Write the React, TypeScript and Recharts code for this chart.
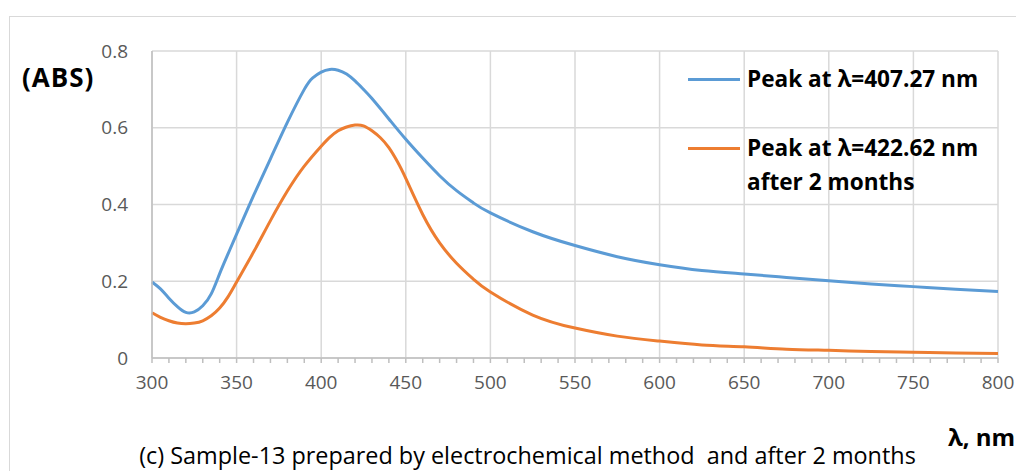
import React from 'react';
import { LineChart, Line, XAxis, YAxis, CartesianGrid, Legend } from 'recharts';

const blueWl = [300, 305, 310, 315, 320, 325, 330, 335, 340, 345, 350, 360, 370, 380, 390, 395, 400, 405, 410, 415, 420, 425, 430, 440, 450, 460, 470, 480, 490, 500, 525, 550, 575, 600, 625, 650, 675, 700, 725, 750, 775, 800];
const blueAbs = [0.198, 0.18, 0.156, 0.134, 0.119, 0.12, 0.136, 0.167, 0.22, 0.272, 0.323, 0.423, 0.519, 0.614, 0.7, 0.73, 0.745, 0.752, 0.75, 0.74, 0.722, 0.7, 0.676, 0.623, 0.57, 0.521, 0.475, 0.436, 0.404, 0.378, 0.329, 0.293, 0.264, 0.243, 0.228, 0.219, 0.21, 0.201, 0.193, 0.186, 0.179, 0.173];

const orangeWl = [300, 305, 310, 315, 320, 325, 330, 335, 340, 345, 350, 360, 370, 380, 390, 400, 405, 410, 415, 420, 425, 430, 435, 440, 445, 450, 460, 470, 480, 490, 500, 525, 550, 575, 600, 625, 650, 675, 700, 725, 750, 775, 800];
const orangeAbs = [0.118, 0.106, 0.097, 0.091, 0.089, 0.091, 0.097, 0.11, 0.13, 0.16, 0.198, 0.276, 0.358, 0.435, 0.5, 0.552, 0.575, 0.592, 0.602, 0.607, 0.605, 0.592, 0.574, 0.548, 0.512, 0.468, 0.374, 0.3, 0.247, 0.205, 0.172, 0.112, 0.078, 0.057, 0.044, 0.034, 0.029, 0.023, 0.02, 0.017, 0.015, 0.013, 0.012];

const xMajorTicks = [300, 350, 400, 450, 500, 550, 600, 650, 700, 750, 800];
const xAllTicks = [300, 310, 320, 330, 340, 350, 360, 370, 380, 390, 400, 410, 420, 430, 440, 450, 460, 470, 480, 490, 500, 510, 520, 530, 540, 550, 560, 570, 580, 590, 600, 610, 620, 630, 640, 650, 660, 670, 680, 690, 700, 710, 720, 730, 740, 750, 760, 770, 780, 790, 800];
const yTicks = [0, 0.2, 0.4, 0.6, 0.8];
const yTickLabels = ['0', '0.2', '0.4', '0.6', '0.8'];

const seriesNames = ['Peak at λ=407.27 nm', 'Peak at λ=422.62 nm', 'after 2 months'];
const yTitle = '(ABS)';
const xTitle = 'λ, nm';
const caption = '(c) Sample-13 prepared by electrochemical method  and after 2 months';

const blueData = blueWl.map((x, i) => ({ x, y: blueAbs[i] }));
const orangeData = orangeWl.map((x, i) => ({ x, y: orangeAbs[i] }));

const FONT = '"Open Sans", "Noto Sans", sans-serif';
const BLUE = '#5b9bd5';
const ORANGE = '#ed7d31';

const XTick = (props: any) => {
  const { x, y, payload } = props;
  if (xMajorTicks.indexOf(payload.value) < 0) return <g />;
  return (
    <text x={x} y={y} dy={24} textAnchor="middle" fill="#595959" fontSize={19} fontFamily={FONT}>
      {payload.value}
    </text>
  );
};

const LegendContent = () => (
  <div style={{ position: 'relative', width: 328, height: 140, fontFamily: FONT, fontWeight: 700, fontSize: 22.6, color: '#000', textAlign: 'left' }}>
    <div style={{ position: 'absolute', left: 0, top: 17.5, width: 52, height: 3, background: BLUE }} />
    <div style={{ position: 'absolute', left: 59, top: 2, lineHeight: '34px', whiteSpace: 'nowrap' }}>{seriesNames[0]}</div>
    <div style={{ position: 'absolute', left: 0, top: 86.5, width: 52, height: 3, background: ORANGE }} />
    <div style={{ position: 'absolute', left: 59, top: 71, lineHeight: '34px', whiteSpace: 'nowrap' }}>
      {seriesNames[1]}
      <br />
      {seriesNames[2]}
    </div>
  </div>
);

export default function App() {
  return (
    <div style={{ position: 'fixed', left: 0, top: 0, width: 1016, height: 471, overflow: 'hidden', background: '#fff' }}>
      <div style={{ position: 'absolute', left: 9, top: 16, width: 1200, height: 700, border: '1px solid #d9d9d9' }} />
      <div style={{ position: 'absolute', left: 0, top: 0 }}>
        <LineChart width={1016} height={471} margin={{ top: 51, right: 18, left: 0, bottom: 0 }}>
          <CartesianGrid stroke="#d9d9d9" strokeWidth={1.5} horizontalValues={yTicks} verticalValues={xMajorTicks} />
          <XAxis
            type="number"
            dataKey="x"
            domain={[300, 800]}
            ticks={xAllTicks}
            interval={0}
            height={113}
            tickSize={5}
            tickMargin={2}
            stroke="#bfbfbf"
            strokeWidth={1.5}
            tick={<XTick />}
            allowDuplicatedCategory={false}
          />
          <YAxis
            type="number"
            domain={[0, 0.8]}
            ticks={yTicks}
            width={152}
            tickLine={false}
            tickSize={6}
            tickMargin={18}
            stroke="#bfbfbf"
            strokeWidth={1.5}
            tickFormatter={(v: number) => yTickLabels[yTicks.indexOf(v)] ?? String(v)}
            tick={{ fill: '#595959', fontSize: 19, fontFamily: FONT }}
          />
          <Legend
            layout="vertical"
            align="center"
            verticalAlign="middle"
            content={<LegendContent />}
            wrapperStyle={{ position: 'absolute', left: 688, top: 60, width: 328, height: 140 }}
          />
          <Line data={blueData} dataKey="y" name={seriesNames[0]} type="natural" stroke={BLUE} strokeWidth={3} dot={false} isAnimationActive={false} />
          <Line data={orangeData} dataKey="y" name={seriesNames[1]} type="natural" stroke={ORANGE} strokeWidth={3} dot={false} isAnimationActive={false} />
        </LineChart>
      </div>
      <div style={{ position: 'absolute', left: 22, top: 59, fontFamily: FONT, fontWeight: 700, fontSize: 26, letterSpacing: 1, lineHeight: '36px', color: '#000', whiteSpace: 'nowrap' }}>{yTitle}</div>
      <div style={{ position: 'absolute', left: 948, top: 420, fontFamily: FONT, fontWeight: 700, fontSize: 24, lineHeight: '34px', color: '#000', whiteSpace: 'nowrap' }}>{xTitle}</div>
      <div style={{ position: 'absolute', left: 0, width: 1055, top: 439, textAlign: 'center', fontFamily: FONT, fontSize: 23.4, lineHeight: '32px', color: '#000', whiteSpace: 'pre' }}>{caption}</div>
    </div>
  );
}
